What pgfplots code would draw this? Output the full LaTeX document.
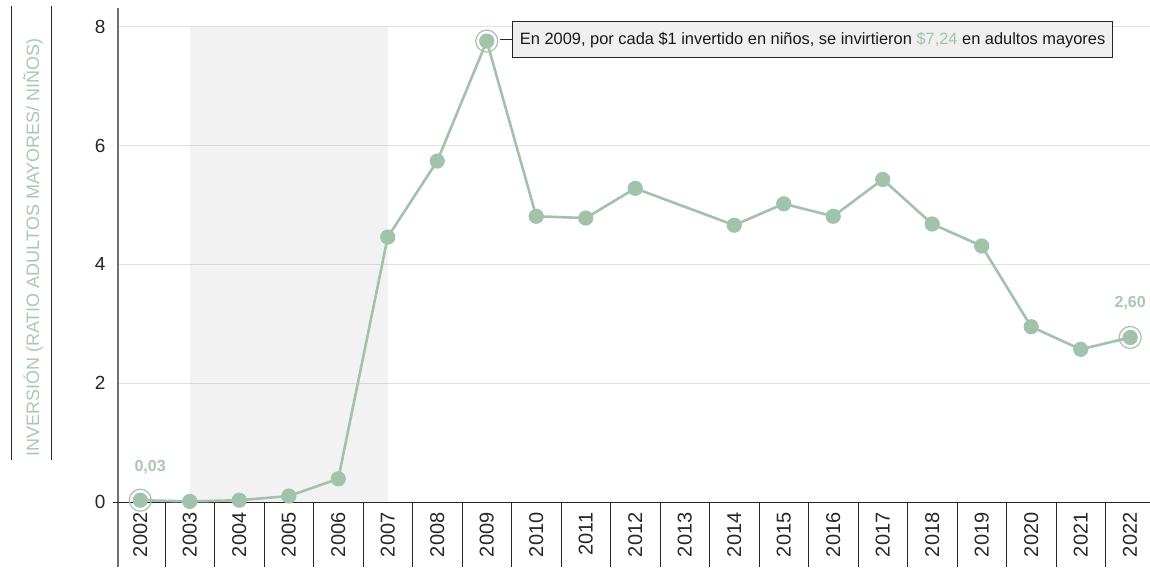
\documentclass[border=0pt]{standalone}
\usepackage{pgfplots}
\pgfplotsset{compat=1.18}
\usepackage{fontspec}
\setmainfont{Liberation Sans}
\definecolor{sage}{HTML}{A3C2AC}
\definecolor{sagelabel}{HTML}{A9C7B2}
\definecolor{gridgray}{HTML}{E2E2E2}
\definecolor{axgray}{HTML}{707070}
\definecolor{boxfill}{HTML}{EFEFEF}
\pgfplotstableread{
year val
2002 0.03
2003 0.01
2004 0.03
2005 0.10
2006 0.39
2007 4.46
2008 5.74
2009 7.76
2010 4.81
2011 4.78
2012 5.28
2014 4.66
2015 5.02
2016 4.81
2017 5.43
2018 4.68
2019 4.31
2020 2.95
2021 2.57
2022 2.77
}\datatable
\begin{document}
\begin{tikzpicture}[x=1pt,y=1pt]
\useasboundingbox (0,0) rectangle (1150,567);
\draw[black!85, line width=0.9pt] (11,107) -- (11,561);
\draw[black!85, line width=0.9pt] (51,107) -- (51,561);
\node[rotate=90, text=sagelabel, font=\fontsize{18}{20}\selectfont] at (33,319.5) {INVERSIÓN (RATIO ADULTOS MAYORES/ NIÑOS)};
\begin{axis}[
  at={(118pt,65pt)}, anchor=south west,
  scale only axis, width=1032pt, height=502pt,
  xmin=2001.55, xmax=2022.40, ymin=0, ymax=8.451,
  clip=false,
  axis line style={draw=none},
  ytick={0,2,4,6,8},
  ymajorgrids, grid style={color=gridgray, line width=0.9pt},
  xtick={2002,...,2022},
  tick pos=left,
  major tick length=0pt,
  xticklabel style={rotate=90, anchor=east, font=\fontsize{20}{22}\selectfont, text=black!85, xshift=-7pt},
  yticklabel style={font=\fontsize{19}{21}\selectfont, text=black!85, xshift=-9pt},
  /pgf/number format/assume math mode=true,
  xticklabel={\pgfmathprintnumber[1000 sep={}]{\tick}},
  yticklabel={\pgfmathprintnumber{\tick}},
]
\fill[black, fill opacity=0.05] (axis cs:2003,0) rectangle (axis cs:2007,8);
\pgfplotsinvokeforeach{2002.5,2003.5,2004.5,2005.5,2006.5,2007.5,2008.5,2009.5,2010.5,2011.5,2012.5,2013.5,2014.5,2015.5,2016.5,2017.5,2018.5,2019.5,2020.5,2021.5}{
  \draw[black!85, line width=0.9pt] (axis cs:#1,0) -- (axis cs:#1,-1.1);
}
\draw[axgray, line width=1.5pt] (axis cs:2001.55,-1.1) -- (axis cs:2001.55,8.32);
\draw[black!85, line width=0.9pt] (axis cs:2001.45,0) -- (axis cs:2022.40,0);
\addplot[sage, line width=2.6pt, mark=*, mark size=6.3pt, mark options={fill=sage, draw=none}] table[x=year, y=val] {\datatable};
\addplot[only marks, mark=o, mark size=11pt, mark options={draw=sage, line width=1.2pt}] coordinates {(2002,0.03) (2009,7.76) (2022,2.77)};
\node[text=sagelabel, font=\bfseries\fontsize{16}{18}\selectfont] at (axis cs:2002.2,0.59) {0,03};
\node[text=sagelabel, font=\bfseries\fontsize{16}{18}\selectfont] at (axis cs:2022,3.35) {2,60};
\draw[black!85, line width=1pt] (axis cs:2009.27,7.78) -- (axis cs:2009.52,7.78);
\node[anchor=west, draw=black!85, line width=1pt, fill=boxfill, minimum height=36pt, inner xsep=7pt, font=\fontsize{16.4}{19}\selectfont, text=black!90] at (axis cs:2009.52,7.78) {En 2009, por cada \$1 invertido en niños, se invirtieron \textcolor{sage}{\$7,24} en adultos mayores};
\end{axis}
\end{tikzpicture}
\end{document}
